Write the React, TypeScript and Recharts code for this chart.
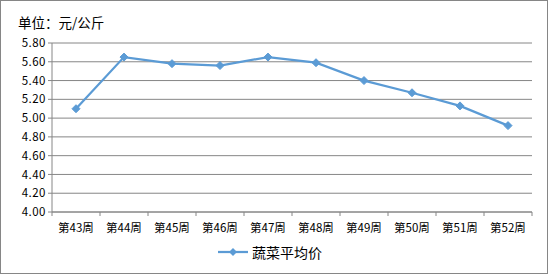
import React from 'react';
import { LineChart, Line, XAxis, YAxis, CartesianGrid, Legend } from 'recharts';

const categories = ['第43周', '第44周', '第45周', '第46周', '第47周', '第48周', '第49周', '第50周', '第51周', '第52周'];
const prices = [5.10, 5.65, 5.58, 5.56, 5.65, 5.59, 5.40, 5.27, 5.13, 4.92];
const yTicks = [4.0, 4.2, 4.4, 4.6, 4.8, 5.0, 5.2, 5.4, 5.6, 5.8];
const seriesName = '蔬菜平均价';
const unitLabel = '单位：元/公斤';

const data = categories.map((c, i) => ({ pos: i + 0.5, name: c, value: prices[i] }));
const xTicks = categories.map((_, i) => i).concat([categories.length]);

const COLOR = '#5B9BD5';
const GRID = '#868686';
const FONT = '"Noto Sans CJK SC", "DejaVu Sans", sans-serif';

const Diamond = (props: any) => {
  const { cx, cy } = props;
  if (cx == null || cy == null) return null;
  const r = 4;
  return <path d={`M${cx},${cy - r}L${cx + r},${cy}L${cx},${cy + r}L${cx - r},${cy}Z`} fill={COLOR} stroke={COLOR} strokeWidth={1} />;
};

const XTick = (props: any) => {
  const { x, y, payload } = props;
  const i = payload.value;
  if (i >= categories.length) return null;
  const bandHalf = props.bandHalf ?? 24;
  return (
    <text x={x + bandHalf} y={y + 14} textAnchor="middle" fontSize={11.5} fill="#000" fontFamily={FONT}>
      {categories[i]}
    </text>
  );
};

const LegendContent = () => (
  <div style={{ display: 'flex', justifyContent: 'center', alignItems: 'center', height: 20, fontFamily: FONT }}>
    <svg width={30} height={10} style={{ marginRight: 4 }}>
      <line x1={0} y1={5} x2={30} y2={5} stroke={COLOR} strokeWidth={2.25} />
      <path d="M15,1L19,5L15,9L11,5Z" fill={COLOR} />
    </svg>
    <span style={{ fontSize: 14, color: '#000' }}>{seriesName}</span>
  </div>
);

export default function App() {
  return (
    <div style={{ position: 'absolute', left: 0, top: 0, width: 549, height: 274, background: '#fff' }}>
      <div style={{ position: 'absolute', left: 0, top: 0, width: 548, height: 274, boxSizing: 'border-box', border: `1px solid ${GRID}` }} />
      <div style={{ position: 'absolute', left: 18, top: 12, fontSize: 13.5, fontFamily: FONT, color: '#000' }}>{unitLabel}</div>
      <LineChart width={549} height={274} data={data} margin={{ top: 43, right: 17, left: 8, bottom: 12 }}>
        <CartesianGrid vertical={false} stroke={GRID} strokeWidth={1} />
        <XAxis
          dataKey="pos"
          type="number"
          domain={[0, categories.length]}
          ticks={xTicks}
          interval={0}
          stroke={GRID}
          tickLine={{ stroke: GRID }}
          tickSize={4}
          height={30}
          tick={<XTick bandHalf={24} />}
        />
        <YAxis
          domain={[4, 5.8]}
          ticks={yTicks}
          interval={0}
          width={44}
          stroke={GRID}
          tickSize={4}
          tickFormatter={(v: number) => v.toFixed(2)}
          tick={{ fontSize: 11.5, fill: '#000', fontFamily: FONT, letterSpacing: 0.5 }}
        />
        <Legend verticalAlign="bottom" content={<LegendContent />} />
        <Line
          dataKey="value"
          name={seriesName}
          stroke={COLOR}
          strokeWidth={2.25}
          dot={<Diamond />}
          activeDot={false}
          isAnimationActive={false}
        />
      </LineChart>
    </div>
  );
}
